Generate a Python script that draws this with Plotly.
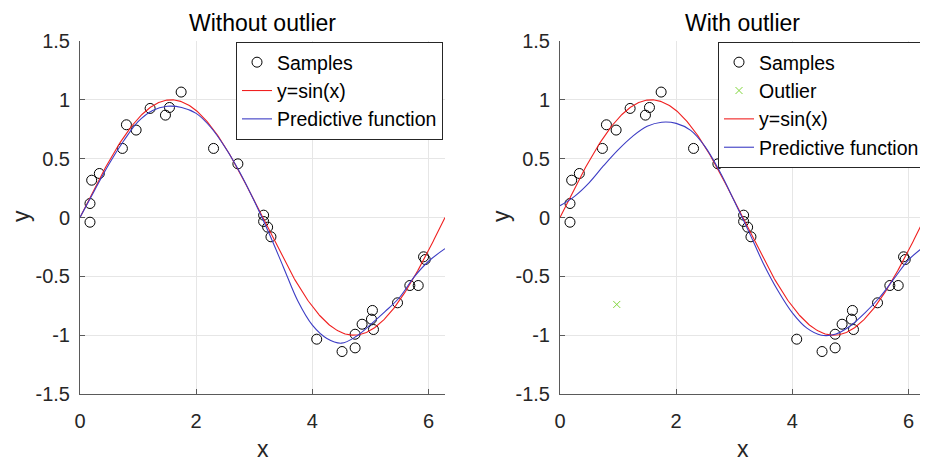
import numpy as np
import plotly.graph_objects as go

# ---------------- data ----------------
sample_x = [0.172, 0.172, 0.201, 0.333, 0.730, 0.799, 0.966, 1.207, 1.471, 1.540,
            1.741, 2.299, 2.718, 3.161, 3.161, 3.230, 3.287, 4.075, 4.511, 4.736,
            4.736, 4.856, 5.034, 5.017, 5.052, 5.466, 5.678, 5.822, 5.914, 5.943]
sample_y = [0.119, -0.040, 0.317, 0.374, 0.587, 0.788, 0.743, 0.927, 0.870, 0.935,
            1.066, 0.587, 0.456, 0.020, -0.034, -0.082, -0.164, -1.034, -1.139, -0.992,
            -1.108, -0.907, -0.790, -0.864, -0.952, -0.725, -0.578, -0.578, -0.334, -0.357]

outlier_x = [0.977]
outlier_y = [-0.739]

pred_x = [0.0, 0.25, 0.5, 0.75, 1.0, 1.25, 1.5, 1.75, 2.0, 2.25, 2.5, 2.75, 3.0,
          3.25, 3.5, 3.75, 4.0, 4.25, 4.5, 4.75, 5.0, 5.25, 5.5, 5.75, 6.0, 6.2832]
pred_without = [0.00, 0.23, 0.455, 0.65, 0.815, 0.91, 0.945, 0.935, 0.885, 0.767,
                0.595, 0.385, 0.14, -0.13, -0.42, -0.71, -0.915, -1.028, -1.068, -1.012,
                -0.91, -0.80, -0.68, -0.507, -0.372, -0.265]
pred_with = [0.10, 0.18, 0.295, 0.44, 0.575, 0.69, 0.775, 0.81, 0.80, 0.74,
             0.60, 0.39, 0.14, -0.12, -0.39, -0.62, -0.81, -0.94, -1.0, -0.99,
             -0.92, -0.81, -0.68, -0.52, -0.36, -0.24]

x_ticks = [0, 2, 4, 6]
x_ticktext = ["0", "2", "4", "6"]
y_ticks = [-1.5, -1, -0.5, 0, 0.5, 1, 1.5]
y_ticktext = ["-1.5", "-1", "-0.5", "0", "0.5", "1", "1.5"]

titles = ["Without outlier", "With outlier"]

sin_x = np.linspace(0, 2 * np.pi, 400)
sin_y = np.sin(sin_x)

# ---------------- style ----------------
# the page body has an 8px margin, so the figure is 8px smaller and all
# positions (given in window pixels) are shifted by 8px
OFF = 8
W, H = 928 - OFF, 462 - OFF
FONT = "Liberation Sans, Arial, Helvetica, sans-serif"
AX_COLOR = "#262626"
LINE_COLOR = "#5a5a5a"
GRID = "#e6e6e6"
RED = "#f02020"
BLUE = "#3c3cc4"
GREEN = "#7fd63a"


def px_x(p):
    return (p - OFF) / W


def px_y(p):
    return 1 - (p - OFF) / H


panels = [  # plot-area window-pixel box: left, right
    (80, 445),
    (560, 925),
]
top_px, bot_px = 41, 394

fig = go.Figure()

for i, (lp, rp) in enumerate(panels):
    xa = "x" if i == 0 else "x2"
    ya = "y" if i == 0 else "y2"
    lg = "legend" if i == 0 else "legend2"
    fig.add_trace(go.Scatter(
        x=sample_x, y=sample_y, mode="markers", name="Samples",
        marker=dict(symbol="circle-open", size=10, color="black", line=dict(width=1)),
        xaxis=xa, yaxis=ya, legend=lg))
    if i == 1:
        fig.add_trace(go.Scatter(
            x=outlier_x, y=outlier_y, mode="markers", name="Outlier",
            marker=dict(symbol="x-thin-open", size=7, color=GREEN, line=dict(width=1, color=GREEN)),
            xaxis=xa, yaxis=ya, legend=lg))
    fig.add_trace(go.Scatter(
        x=sin_x, y=sin_y, mode="lines", name="y=sin(x)",
        line=dict(color=RED, width=1.1),
        xaxis=xa, yaxis=ya, legend=lg))
    fig.add_trace(go.Scatter(
        x=pred_x, y=pred_without if i == 0 else pred_with, mode="lines",
        name="Predictive function", line=dict(color=BLUE, width=1.1, shape="spline", smoothing=1.0),
        xaxis=xa, yaxis=ya, legend=lg))

    axis_common = dict(
        showline=True, linecolor=LINE_COLOR, linewidth=1, mirror=False,
        ticks="inside", ticklen=5, tickcolor=LINE_COLOR, tickwidth=1,
        showgrid=True, gridcolor=GRID, gridwidth=1, zeroline=False,
        automargin=False,
        tickfont=dict(family=FONT, size=20, color=AX_COLOR),
    )
    xkey = "xaxis" if i == 0 else "xaxis2"
    ykey = "yaxis" if i == 0 else "yaxis2"
    fig.update_layout(**{
        xkey: dict(axis_common, domain=[px_x(lp), px_x(rp)], range=[0, 2 * np.pi],
                   tickvals=x_ticks, ticktext=x_ticktext, anchor=ya, ticklabelstandoff=9),
        ykey: dict(axis_common, domain=[px_y(bot_px), px_y(top_px)], range=[-1.5, 1.5],
                   tickvals=y_ticks, ticktext=y_ticktext, anchor=xa, ticklabelstandoff=5),
    })

    cx = (lp + rp) / 2
    # title
    fig.add_annotation(text=titles[i], x=px_x(cx), y=px_y(23), xref="paper", yref="paper",
                       xanchor="center", yanchor="middle", showarrow=False,
                       font=dict(family=FONT, size=23, color="black"))
    # axis labels
    fig.add_annotation(text="x", x=px_x(cx), y=px_y(449), xref="paper", yref="paper",
                       xanchor="center", yanchor="middle", showarrow=False,
                       font=dict(family=FONT, size=23, color=AX_COLOR))
    fig.add_annotation(text="y", x=px_x(lp - 59), y=px_y(216), xref="paper", yref="paper",
                       xanchor="center", yanchor="middle", showarrow=False, textangle=-90,
                       font=dict(family=FONT, size=23, color=AX_COLOR))

legend_common = dict(
    bgcolor="white", bordercolor=AX_COLOR, borderwidth=1,
    font=dict(family=FONT, size=19.5, color="black"),
    xanchor="right", yanchor="top", xref="paper", yref="paper",
    tracegroupgap=0, itemwidth=30,
)
fig.update_layout(
    width=W, height=H,
    margin=dict(l=0, r=0, t=0, b=0, autoexpand=False),
    paper_bgcolor="white", plot_bgcolor="white",
    showlegend=True,
    legend=dict(legend_common, x=px_x(443), y=px_y(42)),
    legend2=dict(legend_common, x=px_x(925), y=px_y(42)),
)

fig.write_html("out.html")
